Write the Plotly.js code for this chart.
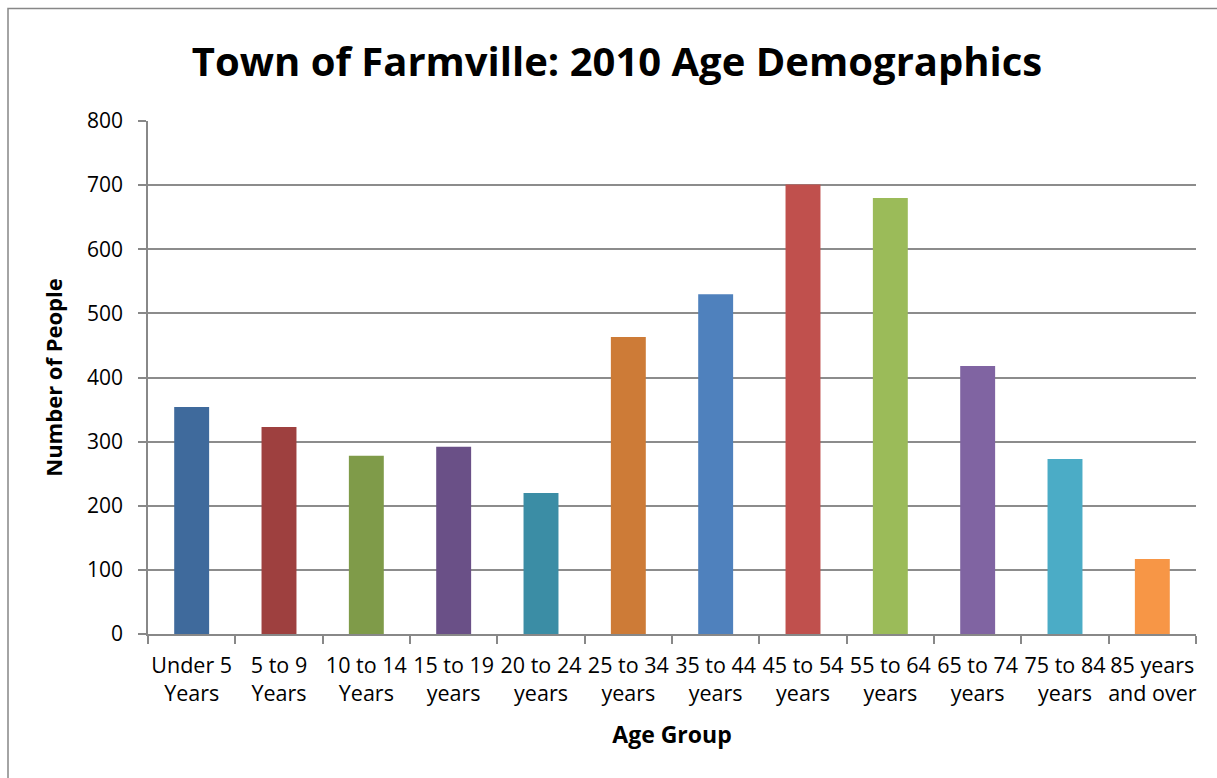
<!DOCTYPE html>
<html>
<head>
<meta charset="utf-8">
<script src="https://cdn.plot.ly/plotly-3.0.1.min.js"></script>
<style>html,body{margin:0;padding:0;background:#fff;}#chart{width:1217px;height:778px;}</style>
</head>
<body>
<div id="chart"></div>
<script>
const categories = ["Under 5<br>Years","5 to 9<br>Years","10 to 14<br>Years","15 to 19<br>years","20 to 24<br>years","25 to 34<br>years","35 to 44<br>years","45 to 54<br>years","55 to 64<br>years","65 to 74<br>years","75 to 84<br>years","85 years<br>and over"];
const values = [354, 323, 278, 292, 220, 463, 530, 701, 680, 418, 273, 117];
const barColors = ["#3F6A9C","#9E403F","#7F9B49","#6A5087","#3B8DA5","#CD7B37","#4F81BD","#C0504D","#9BBB59","#8064A2","#4BACC6","#F79646"];
const yTicks = [0,100,200,300,400,500,600,700,800];

const font = "'Open Sans', 'Noto Sans', sans-serif";
const L = 148, R = 1217-1196, T = 121, B = 778-634;
const pw = 1217 - L - R, ph = 778 - T - B;

Plotly.newPlot('chart', [{
  type: 'bar',
  x: categories,
  y: values,
  marker: {color: barColors},
  hoverinfo: 'x+y'
}], {
  width: 1217, height: 778,
  margin: {l: L, r: R, t: T, b: B, pad: 0},
  paper_bgcolor: '#fff', plot_bgcolor: '#fff',
  bargap: 0.6,
  showlegend: false,
  title: {text: '<b>Town of Farmville: 2010 Age Demographics</b>', font: {family: font, size: 40, color: '#000'}, x: 0.507, xanchor: 'center', y: 0.92, yanchor: 'middle'},
  xaxis: {
    type: 'category',
    tickangle: 0, automargin: false,
    tickson: 'boundaries', ticks: 'outside', ticklen: 8, tickcolor: '#888', tickwidth: 1.5,
    ticklabelstandoff: 11,
    showline: true, linecolor: '#888', linewidth: 1.5,
    showgrid: false,
    tickfont: {family: font, size: 21.5, color: '#000'},
    title: {text: '<b>Age Group</b>', font: {family: font, size: 23, color: '#000'}, standoff: 21},
    fixedrange: true
  },
  yaxis: {
    range: [0, 800], tickvals: yTicks, ticktext: yTicks.map(String),
    automargin: false,
    ticks: 'outside', ticklen: 8, tickcolor: '#888', tickwidth: 1.5,
    ticklabelstandoff: 11,
    showline: true, linecolor: '#888', linewidth: 1.5,
    showgrid: true, gridcolor: '#8c8c8c', gridwidth: 1.5,
    zeroline: false,
    tickfont: {family: font, size: 21, color: '#000'},
    title: {text: '<b>Number of People</b>', font: {family: font, size: 22, color: '#000'}, standoff: 18},
    fixedrange: true
  },
  shapes: [{
    type: 'rect', xref: 'paper', yref: 'paper',
    x0: (8 - L)/pw, x1: (1225 - L)/pw,
    y0: (634 - 790)/ph, y1: (634 - 8.5)/ph,
    line: {color: '#878787', width: 1.5}, fillcolor: 'rgba(0,0,0,0)', layer: 'below'
  }]
}, {displayModeBar: false});
</script>
</body>
</html>
